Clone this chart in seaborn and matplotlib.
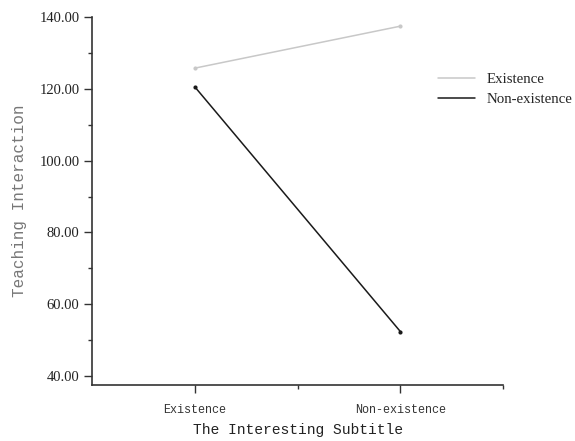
import matplotlib
matplotlib.use("Agg")
import matplotlib.pyplot as plt
import seaborn as sns
import pandas as pd
from matplotlib.ticker import MultipleLocator, FixedLocator, FormatStrFormatter

categories = ["Existence", "Non-existence"]
series_names = ["Existence", "Non-existence"]
existence_vals = [125.8, 137.5]
nonexistence_vals = [120.6, 52.4]
y_ticks = [40, 60, 80, 100, 120, 140]

rows = []
for name, vals in zip(series_names, [existence_vals, nonexistence_vals]):
    for i, (c, v) in enumerate(zip(categories, vals)):
        rows.append({"pos": i + 1, "cat": c, "group": name, "value": v})
df = pd.DataFrame(rows)

sns.set_style("ticks")
fig = plt.figure(figsize=(5.75, 4.41), dpi=100)
ax = fig.add_axes([0.16, 0.127, 0.715, 0.834])

sns.lineplot(data=df, x="pos", y="value", hue="group", hue_order=series_names,
             palette={"Existence": "#c8c8c8", "Non-existence": "#1a1a1a"},
             marker="o", markersize=3, markeredgewidth=0, linewidth=1.1, ax=ax)

ax.set_xlim(0.5, 2.5)
ax.set_ylim(37.5, 140)
ax.xaxis.set_major_locator(FixedLocator([1, 2]))
ax.xaxis.set_minor_locator(FixedLocator([1.5, 2.5]))
ax.set_xticklabels(categories, family="Liberation Mono", fontsize=8.5, color="#333333")
ax.yaxis.set_major_locator(FixedLocator(y_ticks))
ax.yaxis.set_minor_locator(MultipleLocator(10))
ax.yaxis.set_major_formatter(FormatStrFormatter("%.2f"))
for lab in ax.get_yticklabels():
    lab.set_family("Liberation Serif")
    lab.set_fontsize(10.5)
    lab.set_color("#222222")

ax.tick_params(axis="both", which="major", length=6, width=1, color="#333333", direction="out")
ax.tick_params(axis="both", which="minor", length=3, width=1, color="#333333", direction="out")
ax.tick_params(axis="x", which="major", pad=8)
ax.tick_params(axis="y", which="major", pad=3)

for s in ["top", "right"]:
    ax.spines[s].set_visible(False)
for s in ["left", "bottom"]:
    ax.spines[s].set_color("#333333")
    ax.spines[s].set_linewidth(1.2)

ax.set_xlabel("The Interesting Subtitle", family="Liberation Mono", fontsize=10.5,
              color="#222222", labelpad=5)
ax.set_ylabel("Teaching Interaction", family="Liberation Mono", fontsize=11.5,
              color="#777777", labelpad=9)

leg = ax.legend(loc="upper left", bbox_to_anchor=(438 / 575, 1 - 73 / 441),
                bbox_transform=fig.transFigure, frameon=False,
                borderpad=0, borderaxespad=0,
                prop={"family": "Liberation Serif", "size": 10.7},
                handlelength=2.5, handletextpad=0.8, labelspacing=0.4)
for h in leg.legend_handles:
    h.set_marker("")

fig.savefig("out.png", dpi=100)
